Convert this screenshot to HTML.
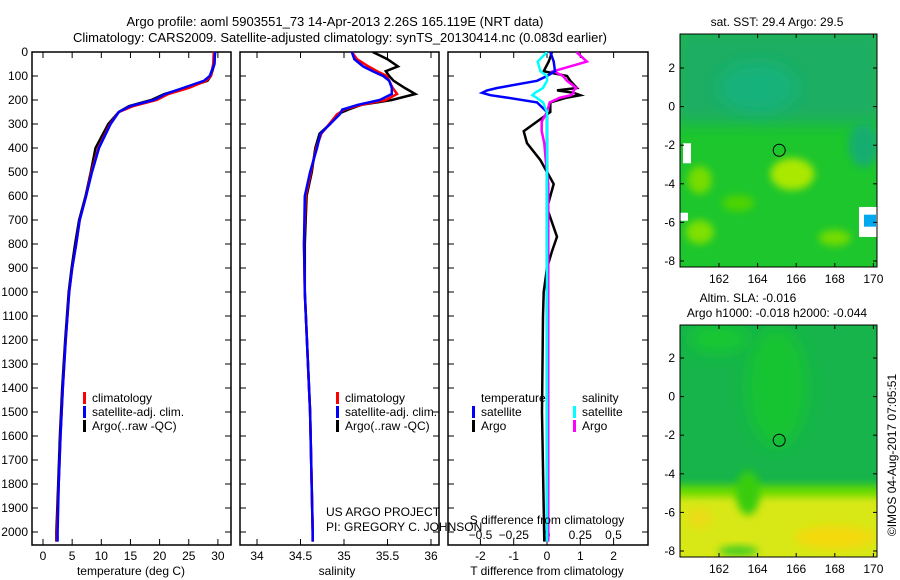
<!DOCTYPE html>
<html><head><meta charset="utf-8"><style>
html,body{margin:0;padding:0;background:#fff;width:900px;height:580px;overflow:hidden;}
svg{display:block;font-family:"Liberation Sans",sans-serif;}
</style></head><body>
<svg id="fig" width="900" height="580" viewBox="0 0 900 580" xmlns="http://www.w3.org/2000/svg">
<defs>
<clipPath id="c1"><rect x="32" y="52" width="199" height="493"/></clipPath>
<clipPath id="c2"><rect x="240" y="52" width="199" height="493"/></clipPath>
<clipPath id="c3"><rect x="448" y="52" width="200" height="493"/></clipPath>
<clipPath id="m1"><rect x="680" y="34" width="197" height="233"/></clipPath>
<clipPath id="m2"><rect x="680" y="325" width="197" height="232"/></clipPath>
<filter id="bl" x="-50%" y="-50%" width="200%" height="200%"><feGaussianBlur stdDeviation="4"/></filter>
<filter id="bl2" x="-50%" y="-50%" width="200%" height="200%"><feGaussianBlur stdDeviation="8"/></filter>
</defs>
<text x="335" y="26" font-size="13" text-anchor="middle">Argo profile: aoml 5903551_73 14-Apr-2013 2.26S 165.119E (NRT data)</text>
<text x="340" y="42" font-size="13" text-anchor="middle">Climatology: CARS2009. Satellite-adjusted climatology: synTS_20130414.nc (0.083d earlier)</text>
<g id="axes"></g>
<g id="maps"></g>
</svg>
<script>
// ---- data ----
const tDepth = [0,50,100,120,150,175,200,225,250,300,400,500,600,700,800,900,1000,1200,1400,1600,1800,2000,2040];
const tArgo  = [29.5,29.4,28.8,28.2,24.4,20.8,18.6,14.8,13.0,11.2,9.0,8.2,7.3,6.2,5.5,4.9,4.4,3.8,3.3,2.9,2.6,2.3,2.3];
const tClim  = [29.3,29.2,28.8,28.0,25.0,21.5,19.5,15.5,13.0,11.5,9.5,8.3,7.4,6.3,5.7,5.0,4.5,3.9,3.4,3.0,2.7,2.4,2.4];
const tSat   = [29.5,29.4,28.6,27.6,24.0,21.0,19.0,15.0,13.0,11.6,9.6,8.4,7.4,6.3,5.7,5.0,4.5,3.9,3.4,3.0,2.7,2.5,2.5];
const sDepth = [0,30,60,80,100,120,150,175,200,220,240,260,300,340,400,500,600,800,1000,1500,2000,2040];
const sArgo  = [35.33,35.5,35.62,35.48,35.52,35.57,35.7,35.82,35.55,35.2,35.05,34.92,34.84,34.72,34.67,34.63,34.57,34.55,34.55,34.61,34.64,34.64];
const sClim  = [35.09,35.15,35.28,35.38,35.49,35.52,35.56,35.61,35.48,35.2,35.0,34.92,34.83,34.74,34.68,34.62,34.56,34.54,34.55,34.61,34.64,34.64];
const sSat   = [35.09,35.12,35.22,35.33,35.45,35.52,35.55,35.55,35.41,35.16,34.98,34.95,34.84,34.73,34.69,34.61,34.55,34.54,34.55,34.61,34.64,34.64];
const dDepth = [0,40,80,100,120,150,160,170,180,190,210,250,290,330,380,450,500,550,650,770,830,900,1000,1100,1500,1900,2040];
const dTsat  = [0.1,0.2,0.24,0.0,-0.3,-1.5,-1.8,-1.95,-1.7,-1.2,-0.3,0.0,0.0,0.0,0.0,0.0,0.0,0.0,0.0,0.0,0.0,0.0,0.0,0.0,0.0,0.0,0.0];
const dTargo = [0.15,0.05,-0.1,0.6,0.7,0.9,0.3,0.8,1.0,0.6,0.1,0.1,-0.3,-0.7,-0.6,-0.2,0.0,0.2,0.0,0.3,0.15,0.0,-0.1,-0.12,-0.15,-0.1,-0.08];
const dSsat  = [0.0,-0.07,-0.05,0.0,0.0,-0.03,-0.06,-0.09,-0.11,-0.08,-0.03,0.0,0.0,0.0,0.0,0.0,0.0,0.0,0.0,0.0,0.0,0.0,0.0,0.0,0.0,0.0,0.0];
const dSargo = [0.22,0.3,0.05,0.12,0.15,0.22,0.2,0.2,0.18,0.1,0.02,0.0,-0.04,-0.04,-0.02,-0.01,0.0,0.01,0.01,0.01,0.01,0.01,0.01,0.01,0.01,0.01,0.01];
const depthTicks = [0,100,200,300,400,500,600,700,800,900,1000,1100,1200,1300,1400,1500,1600,1700,1800,1900,2000];
const tTicks = [0,5,10,15,20,25,30];
const sTicks = [34,34.5,35,35.5,36];
const dtTicks = [-2,-1,0,1,2];
const dsTicks = [-0.5,-0.25,0,0.25,0.5];
const lonTicks = [162,164,166,168,170];
const latTicks = [2,0,-2,-4,-6,-8];
const argoLon = 165.119, argoLat = -2.26;

// ---- scales ----
const yD = d => 52 + d*0.24;
const xT = v => 43 + v*5.83;
const xS = v => 257 + (v-34)*87;
const xDT = v => 547 + v*33.3;
const xDS = v => 547 + v*133;
const mx = lon => 719 + (lon-162)*19.3;
const my1 = lat => 68 + (2-lat)*19.3;
const my2 = lat => 358 + (2-lat)*19.3;

const NS="http://www.w3.org/2000/svg";
const axes=document.getElementById('axes');
function el(tag,attrs,parent){const e=document.createElementNS(NS,tag);for(const k in attrs)e.setAttribute(k,attrs[k]);(parent||axes).appendChild(e);return e;}
function txt(x,y,s,anchor,size,parent){const t=el('text',{x:x,y:y,'font-size':size||12,'text-anchor':anchor||'start'},parent);t.textContent=s;return t;}

function panel(x0,w,name){
  const g=el('g',{});
  
  
  const r=el('rect',{x:x0,y:52,width:w,height:493,fill:'none',stroke:'#000','stroke-width':1.5},g);
  
  
  depthTicks.forEach(d=>{
    el('line',{x1:x0,x2:x0+6,y1:yD(d),y2:yD(d),stroke:'#000'},g);
    el('line',{x1:x0+w-6,x2:x0+w,y1:yD(d),y2:yD(d),stroke:'#000'},g);
  });
  return g;
}
function xticks(g,ticks,f,labY,labels){
  ticks.forEach(v=>{
    const x=f(v);
    el('line',{x1:x,x2:x,y1:52,y2:58,stroke:'#000'},g);
    el('line',{x1:x,x2:x,y1:539,y2:545,stroke:'#000'},g);
    if(labels){const t=txt(x,labY,String(v),'middle',12,g);
      
      }
  });
}
function line(g,depths,vals,f,color,clip,name){
  const d=depths.map((dd,i)=>(i?'L':'M')+f(vals[i]).toFixed(1)+','+yD(dd).toFixed(1)).join('');
  const p=el('path',{d:d,fill:'none',stroke:color,'stroke-width':2.5,'clip-path':'url(#'+clip+')'},g);
  
  
}
function legendItem(g,x,y,color,label,name){
  el('rect',{x:x,y:y-10,width:3,height:12,fill:color},g);
  const t=txt(x+9,y,label,'start',12,g);
  
  
}

// Panel 1 temperature
const p1=panel(32,199,'temperature-panel');
depthTicks.forEach(d=>{const t=txt(28,yD(d)+4,String(d),'end',12,p1);
  
  });
xticks(p1,tTicks,xT,560,true);
line(p1,tDepth,tArgo,xT,'#000','c1','temp-argo-line');
line(p1,tDepth,tClim,xT,'#f00','c1','temp-climatology-line');
line(p1,tDepth,tSat,xT,'#0000ff','c1','temp-satellite-line');
legendItem(p1,83,402,'#f00','climatology','legend-climatology');
legendItem(p1,83,416,'#0000ff','satellite-adj. clim.','legend-satellite');
legendItem(p1,83,430,'#000','Argo(..raw -QC)','legend-argo');
{const t=txt(131,575,'temperature (deg C)','middle',12,p1);}

// Panel 2 salinity
const p2=panel(240,199,'salinity-panel');
xticks(p2,sTicks,xS,560,true);
line(p2,sDepth,sArgo,xS,'#000','c2','sal-argo-line');
line(p2,sDepth,sClim,xS,'#f00','c2','sal-climatology-line');
line(p2,sDepth,sSat,xS,'#0000ff','c2','sal-satellite-line');
legendItem(p2,336,402,'#f00','climatology','legend-climatology-2');
legendItem(p2,336,416,'#0000ff','satellite-adj. clim.','legend-satellite-2');
legendItem(p2,336,430,'#000','Argo(..raw -QC)','legend-argo-2');
{const t=txt(337,575,'salinity','middle',12,p2);}
{const t=txt(326,516,'US ARGO PROJECT','start',12,p2);}
{const t=txt(326,531,'PI: GREGORY C. JOHNSON','start',12,p2);}

// Panel 3 differences
const p3=panel(448,200,'difference-panel');
xticks(p3,dtTicks,xDT,560,true);
dsTicks.forEach(v=>{const t=txt(xDS(v),539,String(v).replace('-','\u2212'),'middle',12,p3);
  
  });
line(p3,dDepth,dTargo,xDT,'#000','c3','tdiff-argo-line');
line(p3,dDepth,dSargo,xDS,'#ff00ff','c3','sdiff-argo-line');
line(p3,dDepth,dTsat,xDT,'#0000ff','c3','tdiff-satellite-line');
line(p3,dDepth,dSsat,xDS,'#00ffff','c3','sdiff-satellite-line');
{const t=txt(481,402,'temperature','start',12,p3);}
{const t=txt(582,402,'salinity','start',12,p3);}
legendItem(p3,472,416,'#0000ff','satellite','legend-t-satellite');
legendItem(p3,472,430,'#000','Argo','legend-t-argo');
legendItem(p3,573,416,'#00ffff','satellite','legend-s-satellite');
legendItem(p3,573,430,'#ff00ff','Argo','legend-s-argo');
{const t=txt(547,524,'S difference from climatology','middle',12,p3);}
{const t=txt(547,575,'T difference from climatology','middle',12,p3);}

// ---- maps ----
const maps=document.getElementById('maps');
function mapFrame(y0,h,my,name,clip,fills){
  const g=el('g',{},maps);
  
  
  const inner=el('g',{'clip-path':'url(#'+clip+')'},g);
  fills(inner);
  const c=el('circle',{cx:mx(argoLon),cy:my(argoLat),r:6,fill:'none',stroke:'#000','stroke-width':1},g);
  
  
  el('rect',{x:680,y:y0,width:197,height:h,fill:'none',stroke:'#000','stroke-width':1},g);
  lonTicks.forEach(v=>{
    el('line',{x1:mx(v),x2:mx(v),y1:y0,y2:y0+4,stroke:'#000'},g);
    el('line',{x1:mx(v),x2:mx(v),y1:y0+h-4,y2:y0+h,stroke:'#000'},g);
    const t=txt(mx(v),y0+h+16,String(v),'middle',12,g);
    
    
  });
  latTicks.forEach(v=>{
    el('line',{x1:680,x2:684,y1:my(v),y2:my(v),stroke:'#000'},g);
    el('line',{x1:873,x2:877,y1:my(v),y2:my(v),stroke:'#000'},g);
    const t=txt(675,my(v)+4,String(v),'end',12,g);
    
    
  });
  return g;
}
mapFrame(34,233,my1,'sst-map','m1',g=>{
  el('rect',{x:680,y:34,width:197,height:233,fill:'#1cc62c'},g);
  el('rect',{x:674,y:28,width:210,height:my1(-0.9)-28,fill:'#1aae62',filter:'url(#bl2)'},g);
  el('ellipse',{cx:mx(164),cy:my1(1),rx:40,ry:25,fill:'#17b27c',filter:'url(#bl2)'},g);
  el('ellipse',{cx:mx(169.5),cy:my1(-2),rx:15,ry:22,fill:'#17ae70',filter:'url(#bl)'},g);
  el('ellipse',{cx:mx(165.8),cy:my1(-3.5),rx:22,ry:16,fill:'#aae800',filter:'url(#bl)'},g);
  el('ellipse',{cx:mx(161),cy:my1(-3.8),rx:12,ry:14,fill:'#78dc00',filter:'url(#bl)'},g);
  el('ellipse',{cx:mx(161),cy:my1(-6.5),rx:14,ry:12,fill:'#80e000',filter:'url(#bl)'},g);
  el('ellipse',{cx:mx(168),cy:my1(-6.8),rx:16,ry:8,fill:'#74dc00',filter:'url(#bl)'},g);
  el('ellipse',{cx:mx(163),cy:my1(-5),rx:16,ry:8,fill:'#50d400',filter:'url(#bl)'},g);
  el('rect',{x:683,y:my1(-1.9),width:8,height:20,fill:'#fff'},g);
  el('rect',{x:859,y:my1(-5.2),width:18,height:30,fill:'#fff'},g);
  el('rect',{x:864,y:my1(-5.6),width:12,height:12,fill:'#00a8f0'},g);
  el('rect',{x:680,y:my1(-5.5),width:8,height:8,fill:'#fff'},g);
});
mapFrame(325,232,my2,'sla-map','m2',g=>{
  el('rect',{x:680,y:325,width:197,height:232,fill:'#16b44a'},g);
  el('ellipse',{cx:mx(165),cy:my2(0.5),rx:30,ry:60,fill:'#14c430',filter:'url(#bl2)'},g);
  el('ellipse',{cx:mx(162),cy:my2(3),rx:30,ry:15,fill:'#14c830',filter:'url(#bl2)'},g);
  el('rect',{x:674,y:my2(-4.6),width:210,height:557-my2(-4.6)+6,fill:'#66dc00',filter:'url(#bl)'},g);
  el('rect',{x:674,y:my2(-5.2),width:210,height:557-my2(-5.2)+6,fill:'#d8e812',filter:'url(#bl)'},g);
  el('ellipse',{cx:mx(163.5),cy:my2(-5),rx:12,ry:22,fill:'#38cc10',filter:'url(#bl)'},g);
  el('ellipse',{cx:mx(168),cy:my2(-7.3),rx:40,ry:12,fill:'#f2da10',filter:'url(#bl)'},g);
  el('ellipse',{cx:mx(161),cy:my2(-6.3),rx:12,ry:10,fill:'#eadc12',filter:'url(#bl)'},g);
  el('ellipse',{cx:mx(163),cy:my2(-8),rx:20,ry:5,fill:'#40cc20',filter:'url(#bl)'},g);
});
{const t=txt(777,26,'sat. SST: 29.4 Argo: 29.5','middle',12,maps);}
{const t=txt(748,302,'Altim. SLA: -0.016','middle',12,maps);}
{const t=txt(777,317,'Argo h1000: -0.018 h2000: -0.044','middle',12,maps);}
{const t=txt(0,0,'\u00a9IMOS 04-Aug-2017 07:05:51','middle',12,maps);t.setAttribute('transform','translate(896,455) rotate(-90)');}
</script>
</body></html>
